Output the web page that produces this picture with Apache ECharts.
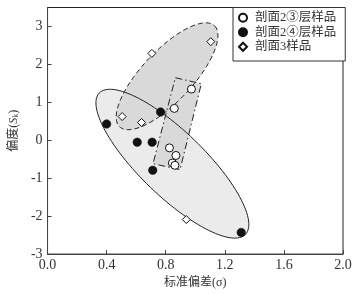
<!DOCTYPE html>
<html><head><meta charset="utf-8">
<script src="https://cdn.jsdelivr.net/npm/echarts@6/dist/echarts.min.js"></script>
<style>html,body{margin:0;padding:0;background:#fff}#c{width:361px;height:294px}</style>
</head><body><div id="c"></div>
<script>
// ---- data ----
const xTicks = [0, 0.4, 0.8, 1.2, 1.6, 2.0];
const yTicks = [-3, -2, -1, 0, 1, 2, 3];
const seriesNames = ['剖面2③层样品', '剖面2④层样品', '剖面3样品'];
// 剖面2③层样品 (open circles)
const layer3 = [[0.974, 1.35], [0.858, 0.84], [0.825, -0.20], [0.869, -0.40], [0.845, -0.60], [0.862, -0.66]];
// 剖面2④层样品 (filled circles)
const layer4 = [[0.40, 0.43], [0.765, 0.745], [0.607, -0.05], [0.708, -0.05], [0.712, -0.79], [1.311, -2.43]];
// 剖面3样品 (diamonds)
const sec3 = [[0.706, 2.29], [1.105, 2.60], [0.505, 0.625], [0.636, 0.47], [0.939, -2.09]];
// Grouping regions in data units: ellipse = centre + two conjugate semi-axes
const ellipseSolid = { c: [0.845, -0.617], a: [0.496, -1.859], b: [-0.148, -0.627] };
const ellipseDashed = { c: [0.809, 1.6875], a: [0.322, 1.328], b: [0.122, -0.471] };
const rectDashDot = [[0.865, 1.648], [1.041, 1.492], [0.897, -0.773], [0.714, -0.617]];

function ellipsePts(e) {
  const pts = [];
  for (let i = 0; i < 120; i++) {
    const t = i / 120 * Math.PI * 2;
    pts.push([e.c[0] + Math.cos(t) * e.a[0] + Math.sin(t) * e.b[0],
              e.c[1] + Math.cos(t) * e.a[1] + Math.sin(t) * e.b[1]]);
  }
  return pts;
}
const shapes = [
  { pts: ellipsePts(ellipseSolid), fill: '#ebebeb', dash: null },
  { pts: ellipsePts(ellipseDashed), fill: '#d9d9d9', dash: [5, 3] },
  { pts: rectDashDot, fill: '#d9d9d9', dash: [7, 3, 1.5, 3] }
];

const serif = "'Liberation Serif','Noto Sans CJK SC',serif";
const chart = echarts.init(document.getElementById('c'), null, { renderer: 'canvas' });
chart.setOption({
  animation: false,
  grid: { left: 38, right: 18, top: 7.5, bottom: 37, show: true, borderColor: '#222', borderWidth: 1, backgroundColor: 'transparent' },
  xAxis: {
    type: 'value', min: 0, max: 2, interval: 0.4,
    name: '标准偏差(σ)', nameLocation: 'middle', nameGap: 18,
    nameTextStyle: { fontFamily: serif, fontSize: 12, color: '#333' },
    axisLine: { show: true, onZero: false, lineStyle: { color: '#444', width: 1 } },
    axisTick: { show: true, inside: true, length: 4, lineStyle: { color: '#444' } },
    axisLabel: { fontFamily: serif, fontSize: 14, color: '#333', margin: 4, formatter: v => v.toFixed(1) },
    splitLine: { show: false }
  },
  yAxis: {
    type: 'value', min: -3, max: 3.5, interval: 1,
    name: '{n|偏度(}{i|S}{s|k}{n|)}', nameLocation: 'middle', nameGap: 22,
    nameTextStyle: { rich: {
      n: { fontFamily: serif, fontSize: 12, color: '#333' },
      i: { fontFamily: serif, fontSize: 12, fontStyle: 'italic', color: '#333' },
      s: { fontFamily: serif, fontSize: 8, color: '#333', verticalAlign: 'bottom', padding: [4, 0, 0, 0] } } },
    axisLine: { show: true, onZero: false, lineStyle: { color: '#444', width: 1 } },
    axisTick: { show: true, inside: true, length: 4, lineStyle: { color: '#444' } },
    axisLabel: { fontFamily: serif, fontSize: 14, color: '#333', margin: 5, showMaxLabel: false,
      formatter: v => (Number.isInteger(v) ? String(v) : '') },
    splitLine: { show: false }
  },
  legend: {
    orient: 'vertical', left: 233, top: 7.5,
    data: seriesNames,
    backgroundColor: '#fff', borderColor: '#333', borderWidth: 1,
    padding: [3, 9, 7, 5], itemGap: 0, itemWidth: 8, itemHeight: 8,
    textStyle: { fontFamily: serif, fontSize: 12.5, color: '#333', lineHeight: 14.5, padding: [0, 0, 0, 3] }
  },
  series: [
    { type: 'custom', name: 'regionFill', silent: true, z: 1, data: shapes.map((s, i) => [i]),
      renderItem: (params, api) => {
        const s = shapes[params.dataIndex];
        return { type: 'polygon', shape: { points: s.pts.map(p => api.coord(p)) },
          style: { fill: s.fill, stroke: null } };
      } },
    { type: 'custom', name: 'regionLine', silent: true, z: 2, data: shapes.map((s, i) => [i]),
      renderItem: (params, api) => {
        const s = shapes[params.dataIndex];
        return { type: 'polygon', shape: { points: s.pts.map(p => api.coord(p)) },
          style: { fill: null, stroke: '#222', lineWidth: 1, lineDash: s.dash || null } };
      } },
    { type: 'scatter', name: seriesNames[0], z: 5, data: layer3, symbol: 'circle', symbolSize: 8,
      itemStyle: { color: '#fff', borderColor: '#111', borderWidth: 1, opacity: 1 } },
    { type: 'scatter', name: seriesNames[1], z: 5, data: layer4, symbol: 'circle', symbolSize: 8.5,
      itemStyle: { color: '#111', borderColor: '#111', borderWidth: 0.5, opacity: 1 } },
    { type: 'scatter', name: seriesNames[2], z: 5, data: sec3, symbol: 'diamond', symbolSize: 8,
      itemStyle: { color: '#fff', borderColor: '#111', borderWidth: 1, opacity: 1 } }
  ]
});
</script></body></html>
